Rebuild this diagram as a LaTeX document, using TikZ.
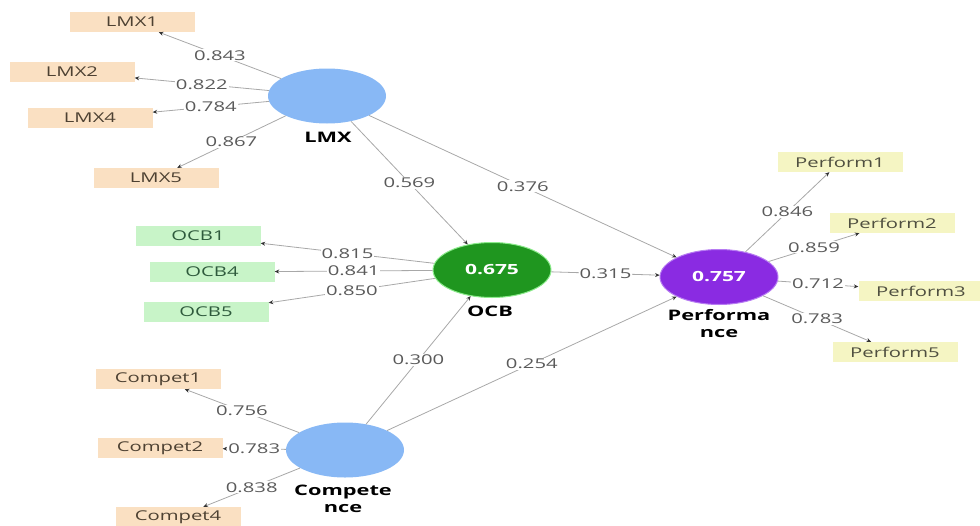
\documentclass[tikz,border=0pt]{standalone}
\usepackage{fontspec}
\setmainfont[FakeStretch=1.5]{Open Sans}
\usetikzlibrary{shapes.geometric,arrows.meta}
\definecolor{lvblue}{HTML}{88B8F5}
\definecolor{ocbgreen}{HTML}{1F961F}
\definecolor{ocbedge}{HTML}{8CEB8C}
\definecolor{perfpurple}{HTML}{8A2BE2}
\definecolor{perfedge}{HTML}{B77CF2}
\definecolor{peach}{HTML}{FAE0C2}
\definecolor{mint}{HTML}{C8F4C8}
\definecolor{paleyellow}{HTML}{F5F5C3}
\definecolor{linegray}{HTML}{A8A8A8}
\definecolor{numgray}{HTML}{5A5A5A}
\definecolor{peachtext}{HTML}{4D4132}
\definecolor{minttext}{HTML}{2E5A3C}
\definecolor{yellowtext}{HTML}{4F4F40}
\begin{document}
\begin{tikzpicture}[x=1pt,y=-1pt,
  lv/.style={ellipse, minimum width=118pt, minimum height=55pt, inner sep=0pt,
    font=\fontsize{14}{16}\selectfont\bfseries},
  indbox/.style={rectangle, minimum width=125pt, minimum height=20pt, inner sep=0pt,
    font=\fontsize{13.5}{16}\selectfont},
  lmxbox/.style={indbox, fill=peach, text=peachtext},
  ocbbox/.style={indbox, fill=mint, text=minttext},
  perfbox/.style={indbox, fill=paleyellow, text=yellowtext},
  lab/.style={fill=white, inner sep=1pt, font=\fontsize{13.5}{16}\selectfont, text=numgray},
  lvname/.style={font=\fontsize{14.5}{17}\selectfont\bfseries, align=center, inner sep=0pt, text=black},
  conn/.style={draw=linegray, line width=0.8pt,
    -{Stealth[length=4.5pt, width=4pt, color=black!80]}},
  inner/.style={conn}
]
\useasboundingbox (0,0) rectangle (980,525);

% latent variables
\node[lv, fill=lvblue] (lmx) at (327,96) {};
\node[lv, fill=ocbgreen, draw=ocbedge, line width=1pt, text=white] (ocb) at (492,270) {0.675};
\node[lv, fill=perfpurple, draw=perfedge, line width=1pt, text=white] (perf) at (719,277) {0.757};
\node[lv, fill=lvblue] (comp) at (345,450) {};

% latent names
\node[lvname] (lmxname) at (328,137) {LMX};
\node[lvname] (ocbname) at (490,311) {OCB};
\node[lvname] (perfname) at (719,324) {Performa\\nce};
\node[lvname] (compname) at (343,499) {Compete\\nce};

% indicators
\node[lmxbox] (lmx1) at (132,22) {LMX1};
\node[lmxbox] (lmx2) at (72,72) {LMX2};
\node[lmxbox] (lmx4) at (90,118) {LMX4};
\node[lmxbox] (lmx5) at (156,178) {LMX5};

\node[ocbbox] (ocb1) at (198,236) {OCB1};
\node[ocbbox] (ocb4) at (212,272) {OCB4};
\node[ocbbox] (ocb5) at (206,312) {OCB5};

\node[perfbox] (p1) at (840,162) {Perform1};
\node[perfbox] (p2) at (892,223) {Perform2};
\node[perfbox] (p3) at (921,291) {Perform3};
\node[perfbox] (p5) at (895,352) {Perform5};

\node[lmxbox] (c1) at (158,379) {Compet1};
\node[lmxbox] (c2) at (160,448) {Compet2};
\node[lmxbox] (c4) at (178,517) {Compet4};

% outer loadings
\draw[conn] (lmx) -- node[lab]{0.843} (lmx1);
\draw[conn] (lmx) -- node[lab]{0.822} (lmx2);
\draw[conn] (lmx) -- node[lab]{0.784} (lmx4);
\draw[conn] (lmx) -- node[lab]{0.867} (lmx5);

\draw[conn] (ocb) -- node[lab]{0.815} (ocb1);
\draw[conn] (ocb) -- node[lab]{0.841} (ocb4);
\draw[conn] (ocb) -- node[lab]{0.850} (ocb5);

\draw[conn] (perf) -- node[lab]{0.846} (p1);
\draw[conn] (perf) -- node[lab]{0.859} (p2);
\draw[conn] (perf) -- node[lab]{0.712} (p3);
\draw[conn] (perf) -- node[lab]{0.783} (p5);

\draw[conn] (comp) -- node[lab]{0.756} (c1);
\draw[conn] (comp) -- node[lab]{0.783} (c2);
\draw[conn] (comp) -- node[lab]{0.838} (c4);

% inner paths
\draw[inner] (lmx) -- node[lab]{0.569} (ocb);
\draw[inner] (lmx) -- node[lab]{0.376} (perf);
\draw[inner] (ocb) -- node[lab]{0.315} (perf);
\draw[inner] (comp) -- node[lab]{0.300} (ocb);
\draw[inner] (comp) -- node[lab]{0.254} (perf);
\end{tikzpicture}
\end{document}
